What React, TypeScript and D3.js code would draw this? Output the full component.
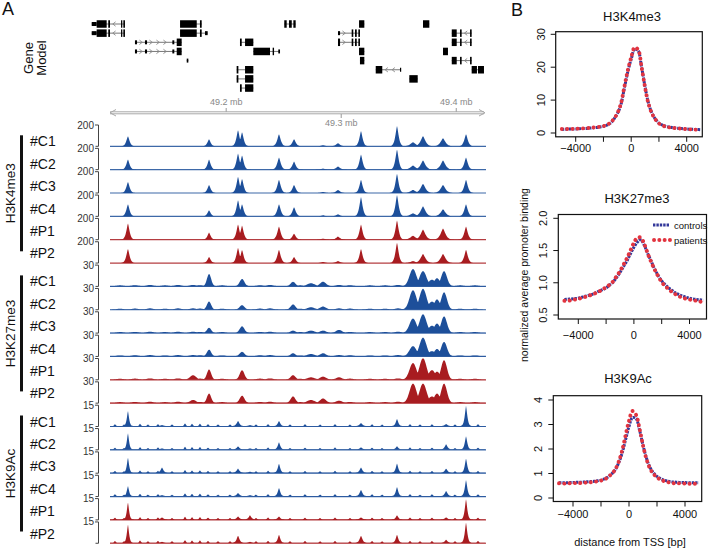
import React from 'react';
import * as d3 from 'd3';

// ---------------- DATA ----------------
const REGION_MB: [number, number] = [49.099, 49.425];
const GENOME_TICKS = [49.2, 49.3, 49.4];
const SAMPLES = ['#C1', '#C2', '#C3', '#C4', '#P1', '#P2'];
const SAMPLE_KIND = ['control', 'control', 'control', 'control', 'patient', 'patient'];
const MARKS = ['H3K4me3', 'H3K27me3', 'H3K9Ac'];
const MARK_SCALE_MAX = [200, 30, 15];
const MARK_FLOOR = [0, 0.5, 0.35];

// peak: position (Mb), width (kb), height per sample (C1..C4, P1, P2)
const K4_PEAKS = [
  { pos: 49.1146, w: 1.2, h: [95, 95, 105, 114, 152, 133] },
  { pos: 49.1851, w: 1.2, h: [67, 95, 76, 57, 67, 57] },
  { pos: 49.2103, w: 1.2, h: [152, 152, 152, 152, 143, 143] },
  { pos: 49.2138, w: 1.2, h: [133, 133, 133, 114, 133, 124] },
  { pos: 49.2459, w: 1.3, h: [114, 114, 124, 114, 124, 124] },
  { pos: 49.259, w: 1.3, h: [67, 76, 76, 86, 57, 57] },
  { pos: 49.2842, w: 1.5, h: [10, 10, 10, 10, 10, 10] },
  { pos: 49.2972, w: 1.5, h: [29, 29, 29, 19, 29, 19] },
  { pos: 49.3172, w: 1.2, h: [143, 143, 124, 181, 143, 133] },
  { pos: 49.3485, w: 1.2, h: [190, 190, 181, 200, 181, 190] },
  { pos: 49.3624, w: 2.0, h: [38, 38, 29, 29, 38, 19] },
  { pos: 49.3711, w: 1.8, h: [95, 86, 86, 95, 95, 86] },
  { pos: 49.3885, w: 1.8, h: [76, 86, 76, 67, 105, 86] },
  { pos: 49.4085, w: 1.3, h: [114, 114, 124, 114, 124, 124] },
];

const K27_PEAKS = [
  { pos: 49.3624, w: 3.0, h: [24, 27, 20, 14, 23, 27] },
  { pos: 49.3711, w: 3.0, h: [21, 29, 26, 26, 30, 27] },
  { pos: 49.3789, w: 3.0, h: [9, 11, 10, 7, 13, 9] },
  { pos: 49.3833, w: 2.5, h: [11, 14, 13, 10, 11, 13] },
  { pos: 49.3894, w: 2.5, h: [21, 24, 23, 20, 27, 27] },
  { pos: 49.1851, w: 1.8, h: [17, 11, 7, 9, 14, 13] },
  { pos: 49.2138, w: 2.0, h: [10, 6, 9, 6, 13, 10] },
  { pos: 49.1712, w: 2.5, h: [1.5, 1.5, 1.5, 1.5, 6, 4] },
  { pos: 49.2581, w: 2.0, h: [6, 7, 3, 4, 6, 9] },
  { pos: 49.2737, w: 3.0, h: [4, 3, 3, 3, 3, 4] },
  { pos: 49.2842, w: 2.5, h: [6, 4, 3, 4, 4, 6] },
  { pos: 49.2981, w: 2.5, h: [1.5, 1.5, 4, 1.5, 3, 3] },
];

const K9_PEAKS = [
  { pos: 49.1146, w: 0.8, h: [10.7, 11.4, 10.7, 7.1, 12.1, 12.9] },
  { pos: 49.2459, w: 0.9, h: [3.6, 5, 6.4, 5.7, 2.1, 5.7] },
  { pos: 49.4085, w: 0.9, h: [14.3, 9.3, 10, 11.4, 14.3, 14.3] },
  { pos: 49.3485, w: 0.9, h: [5, 2.1, 6.4, 6.4, 2.9, 5.7] },
  { pos: 49.3172, w: 1.0, h: [2.1, 1.4, 3.6, 4.3, 1.4, 5] },
  { pos: 49.3912, w: 1.0, h: [1.4, 3.6, 2.9, 3.6, 1.4, 2.1] },
  { pos: 49.2103, w: 1.0, h: [3.6, 2.1, 2.9, 2.1, 2.1, 5] },
  { pos: 49.1442, w: 1.0, h: [0.7, 0.7, 3.6, 0.7, 1.4, 0.7] },
  { pos: 49.2207, w: 1.0, h: [0.7, 0.7, 0.7, 0.7, 2.9, 0.7] },
];

// small background bumps shared by the samples of a mark: [pos Mb, height]
const K27_MINOR: [number, number][] = [
  [49.1077, 1.0], [49.1207, 1.2], [49.1338, 1.5], [49.1468, 1.0], [49.1581, 1.5],
  [49.1772, 1.2], [49.1964, 1.0], [49.2294, 1.2], [49.2381, 1.5], [49.2642, 1.0],
  [49.3076, 1.2], [49.325, 1.0], [49.3381, 1.0], [49.3494, 1.5], [49.4033, 1.0], [49.4163, 1.0],
];
const K9_MINOR: [number, number][] = [
  [49.1033, 1.2], [49.1112, 1.0], [49.1251, 1.5], [49.132, 1.0], [49.1407, 1.3],
  [49.1529, 1.0], [49.1642, 1.8], [49.1703, 1.5], [49.1772, 1.6], [49.1842, 1.2],
  [49.1929, 1.0], [49.2033, 1.0], [49.2259, 1.0], [49.2364, 1.3], [49.2555, 1.0],
  [49.2685, 1.2], [49.2816, 1.0], [49.2946, 1.3], [49.3076, 1.0], [49.3268, 1.2],
  [49.3355, 1.0], [49.3598, 1.3], [49.3685, 1.0], [49.3789, 1.2], [49.3989, 1.0], [49.4189, 1.2],
];

// gene model: row, strand, exons [start Mb, end Mb, thick(1)/thin(0)]
const GENES: { row: number; strand: number; exons: [number, number, number][] }[] = [
  { row: 0, strand: -1, exons: [[49.0831, 49.0874, 0], [49.0874, 49.0961, 1], [49.0975, 49.099, 1], [49.1086, 49.1097, 1], [49.1106, 49.112, 1]] },
  { row: 1, strand: -1, exons: [[49.0831, 49.0874, 0], [49.0874, 49.0961, 1], [49.0975, 49.099, 1], [49.1086, 49.1097, 1], [49.1106, 49.112, 1]] },
  { row: 0, strand: -1, exons: [[49.1599, 49.1744, 1], [49.1772, 49.1787, 1]] },
  { row: 1, strand: -1, exons: [[49.1599, 49.1744, 1], [49.1772, 49.1787, 1], [49.1816, 49.1839, 0]] },
  { row: 0, strand: 0, exons: [[49.2505, 49.2526, 1], [49.2546, 49.257, 1], [49.2584, 49.2604, 1]] },
  { row: 0, strand: 0, exons: [[49.3155, 49.3201, 1]] },
  { row: 0, strand: 0, exons: [[49.3711, 49.3766, 1]] },
  { row: 2, strand: 1, exons: [[49.1207, 49.1225, 0], [49.1294, 49.1312, 0], [49.1532, 49.1549, 0], [49.157, 49.1613, 1]] },
  { row: 3, strand: 1, exons: [[49.1207, 49.1225, 0], [49.1294, 49.1312, 0], [49.1532, 49.1549, 0], [49.157, 49.1613, 1]] },
  { row: 2, strand: 0, exons: [[49.212, 49.2135, 1], [49.2164, 49.2236, 1]] },
  { row: 1, strand: 1, exons: [[49.2972, 49.299, 0], [49.3091, 49.3105, 1], [49.312, 49.3135, 1], [49.3149, 49.3163, 1]] },
  { row: 2, strand: 1, exons: [[49.2972, 49.299, 1], [49.3091, 49.3105, 1], [49.312, 49.3135, 1], [49.3149, 49.3163, 1]] },
  { row: 1, strand: -1, exons: [[49.3961, 49.4004, 1], [49.4033, 49.4047, 1], [49.412, 49.4134, 1]] },
  { row: 2, strand: -1, exons: [[49.3961, 49.4004, 1], [49.4033, 49.4047, 1], [49.412, 49.4134, 1]] },
  { row: 4, strand: -1, exons: [[49.3961, 49.4004, 1], [49.4033, 49.4047, 1], [49.412, 49.4134, 1]] },
  { row: 3, strand: 0, exons: [[49.2236, 49.2381, 1], [49.2404, 49.2416, 1], [49.2453, 49.2468, 0]] },
  { row: 3, strand: 0, exons: [[49.3155, 49.3201, 1]] },
  { row: 4, strand: 0, exons: [[49.3163, 49.3201, 1]] },
  { row: 4, strand: 0, exons: [[49.1657, 49.1671, 0]] },
  { row: 3, strand: 0, exons: [[49.3885, 49.3928, 1]] },
  { row: 5, strand: 1, exons: [[49.2091, 49.2106, 1], [49.2164, 49.2236, 1]] },
  { row: 5, strand: -1, exons: [[49.33, 49.3357, 1], [49.3511, 49.352, 0]] },
  { row: 5, strand: 0, exons: [[49.4134, 49.418, 1], [49.4189, 49.4241, 1]] },
  { row: 6, strand: 0, exons: [[49.2091, 49.2106, 1], [49.2164, 49.2236, 1]] },
  { row: 6, strand: 0, exons: [[49.3592, 49.3665, 1]] },
  { row: 7, strand: 0, exons: [[49.212, 49.2135, 1], [49.2164, 49.2236, 1]] },
];

// Panel B: average promoter profiles
const TSS_DIST = [
  -5000, -4750, -4500, -4250, -4000, -3750, -3500, -3250, -3000, -2750, -2500, -2250, -2000, -1750,
  -1500, -1250, -1000, -750, -500, -250, 0, 250, 500, 750, 1000, 1250, 1500, 1750, 2000, 2250,
  2500, 2750, 3000, 3250, 3500, 3750, 4000, 4250, 4500, 4750, 5000,
];
const K4_CONTROLS = [1.1, 1.15, 1.2, 1.2, 1.25, 1.3, 1.35, 1.4, 1.5, 1.6, 1.7, 1.85, 2.0, 2.4, 3.0, 4.2, 5.9, 8.5, 13.5, 18.5, 22.5, 25.5, 25, 20, 14, 9, 6, 4.2, 3.0, 2.4, 2.0, 1.8, 1.6, 1.5, 1.4, 1.3, 1.2, 1.15, 1.1, 1.05, 1.0];
const K4_PATIENTS = [1.2, 1.2, 1.25, 1.25, 1.3, 1.35, 1.4, 1.45, 1.55, 1.65, 1.75, 1.9, 2.1, 2.5, 3.1, 4.3, 6.0, 8.8, 14, 19, 23, 26, 25.3, 20, 13.8, 8.8, 5.9, 4.1, 2.9, 2.3, 1.9, 1.7, 1.55, 1.45, 1.35, 1.25, 1.2, 1.1, 1.05, 1.0, 1.0];
const K27_CONTROLS = [0.74, 0.745, 0.75, 0.755, 0.76, 0.775, 0.79, 0.805, 0.82, 0.845, 0.87, 0.895, 0.92, 0.965, 1.01, 1.08, 1.16, 1.25, 1.34, 1.45, 1.55, 1.63, 1.665, 1.58, 1.45, 1.33, 1.21, 1.11, 1.03, 0.97, 0.92, 0.88, 0.84, 0.815, 0.795, 0.775, 0.76, 0.75, 0.74, 0.735, 0.73];
const K27_PATIENTS = [0.72, 0.72, 0.73, 0.74, 0.75, 0.765, 0.78, 0.8, 0.815, 0.84, 0.865, 0.9, 0.93, 0.97, 1.02, 1.1, 1.18, 1.28, 1.38, 1.5, 1.62, 1.7, 1.7, 1.6, 1.45, 1.32, 1.2, 1.1, 1.01, 0.95, 0.9, 0.855, 0.82, 0.79, 0.77, 0.75, 0.74, 0.73, 0.72, 0.71, 0.69];
const K9_CONTROLS = [0.62, 0.62, 0.62, 0.63, 0.63, 0.64, 0.64, 0.65, 0.66, 0.67, 0.68, 0.7, 0.73, 0.78, 0.86, 0.98, 1.14, 1.42, 1.82, 2.37, 2.92, 3.28, 3.25, 2.78, 2.16, 1.62, 1.25, 1.02, 0.88, 0.79, 0.73, 0.69, 0.66, 0.65, 0.64, 0.63, 0.63, 0.62, 0.62, 0.62, 0.62];
const K9_PATIENTS = [0.6, 0.59, 0.59, 0.6, 0.6, 0.61, 0.61, 0.62, 0.63, 0.64, 0.66, 0.68, 0.71, 0.76, 0.85, 0.98, 1.15, 1.46, 1.92, 2.55, 3.15, 3.55, 3.4, 2.85, 2.15, 1.58, 1.2, 0.98, 0.84, 0.75, 0.69, 0.65, 0.62, 0.6, 0.6, 0.59, 0.59, 0.58, 0.58, 0.58, 0.59];
const LEGEND = ['controls', 'patients'];

// ---------------- STYLE ----------------
const FONT = 'Liberation Sans, Arial, Helvetica, sans-serif';
const TRACK_BLUE = '#1d4f9a';
const TRACK_RED = '#a81c20';
const LINE_BLUE = '#33389a';
const LINE_RED = '#e2343f';

const gx = d3.scaleLinear().domain(REGION_MB).range([110, 485]);
const PX_PER_KB = (gx(49.2) - gx(49.1)) / 100;

function trackPath(peaks: any[], minor: [number, number][], si: number, gi: number, y: d3.ScaleLinear<number, number>) {
  const floor = MARK_FLOOR[gi];
  const max = MARK_SCALE_MAX[gi];
  const expo = gi === 1 ? 2 : 1.4; // sharper peak shape for narrow marks
  const pts: [number, number][] = [];
  for (const px of d3.range(110, 486, 0.5)) {
    let v = 0;
    for (const p of peaks) {
      const s = p.w * PX_PER_KB;
      const d = Math.abs(px - gx(p.pos)) / s;
      v = Math.max(v, p.h[si] * Math.exp(-0.5 * Math.pow(d, expo)));
    }
    const ms = (gi === 1 ? 2.5 : 0.7) * PX_PER_KB;
    for (const [pos, h] of minor) {
      const d = (px - gx(pos)) / ms;
      v = Math.max(v, h * Math.exp(-0.5 * d * d));
    }
    pts.push([px, Math.min(max, v + floor)]);
  }
  const area = d3.area<[number, number]>().x(d => d[0]).y0(y(0)).y1(d => y(d[1]));
  return area(pts) || '';
}

const TRACK_TOP0 = 125;
const TRACK_STEP = 23.35;
const TRACK_H = 21.3;
const LABEL_STEP = 22.4;

function Tracks() {
  const groups = [
    { peaks: K4_PEAKS, minor: [] as [number, number][] },
    { peaks: K27_PEAKS, minor: K27_MINOR },
    { peaks: K9_PEAKS, minor: K9_MINOR },
  ];
  const out: React.ReactNode[] = [];
  groups.forEach((g, gi) => {
    const firstBase = TRACK_TOP0 + gi * 6 * TRACK_STEP + TRACK_H;
    const barTop = firstBase - 11;
    const barBot = firstBase + 5 * LABEL_STEP - 7;
    out.push(
      <g key={'grp' + gi}>
        <rect x={20} y={barTop} width={3} height={barBot - barTop} fill="#111" />
        <text transform={`translate(15,${(barTop + barBot) / 2}) rotate(-90)`} textAnchor="middle" fontSize={13.5} fill="#111">{MARKS[gi]}</text>
      </g>
    );
    SAMPLES.forEach((s, si) => {
      const idx = gi * 6 + si;
      const top = TRACK_TOP0 + idx * TRACK_STEP;
      const base = top + TRACK_H;
      const y = d3.scaleLinear().domain([0, MARK_SCALE_MAX[gi]]).range([base, top]);
      const col = SAMPLE_KIND[si] === 'control' ? TRACK_BLUE : TRACK_RED;
      out.push(
        <g key={'t' + idx}>
          <text x={30} y={firstBase + si * LABEL_STEP} fontSize={14} fill="#111">{s}</text>
          <text x={94} y={top} dy="0.35em" textAnchor="end" fontSize={10} fill="#333">{MARK_SCALE_MAX[gi]}</text>
          <line x1={95} x2={98.5} y1={top} y2={top} stroke="#444" strokeWidth={1} />
          <line x1={98.5} x2={98.5} y1={top} y2={base} stroke="#444" strokeWidth={1} />
          <line x1={95.5} x2={98.5} y1={base} y2={base} stroke="#444" strokeWidth={1} />
          <path d={trackPath(g.peaks, g.minor, si, gi, y)} fill={col} />
          <line x1={110} x2={486} y1={base} y2={base} stroke={col} strokeWidth={1.2} opacity={0.85} />
        </g>
      );
    });
  });
  return <g>{out}</g>;
}

function GeneModel() {
  const rowY = (r: number) => 24 + r * 9.15;
  const items: React.ReactNode[] = [];
  GENES.forEach((g, i) => {
    const y = rowY(g.row);
    const s = gx(g.exons[0][0]);
    const e = gx(g.exons[g.exons.length - 1][1]);
    items.push(<line key={'l' + i} x1={s} x2={e} y1={y} y2={y} stroke="#777" strokeWidth={1} />);
    for (let k = 0; k < g.exons.length - 1; k++) {
      const a = gx(g.exons[k][1]);
      const b = gx(g.exons[k + 1][0]);
      if (g.strand !== 0 && b - a > 7) {
        for (let cx = a + 4; cx < b - 2; cx += 7) {
          const d = g.strand > 0
            ? `M${cx - 1.6},${y - 2.2}L${cx + 1.2},${y}L${cx - 1.6},${y + 2.2}`
            : `M${cx + 1.6},${y - 2.2}L${cx - 1.2},${y}L${cx + 1.6},${y + 2.2}`;
          items.push(<path key={`c${i}-${k}-${cx}`} d={d} fill="none" stroke="#888" strokeWidth={0.9} />);
        }
      }
    }
    g.exons.forEach((ex, j) => {
      const hgt = ex[2] ? 7.5 : 4;
      items.push(
        <rect key={`e${i}-${j}`} x={gx(ex[0])} y={y - hgt / 2} width={Math.max(1.2, gx(ex[1]) - gx(ex[0]))} height={hgt} fill="#000" />
      );
    });
  });
  return <g>{items}</g>;
}

function GenomeAxis() {
  const y1 = 111.8, y2 = 113.8;
  return (
    <g>
      <line x1={110} x2={484} y1={y1} y2={y1} stroke="#a8a8a8" strokeWidth={1} />
      <line x1={110} x2={484} y1={y2} y2={y2} stroke="#a8a8a8" strokeWidth={1} />
      <path d="M116,109.5L110,112.8L116,116" fill="none" stroke="#a8a8a8" strokeWidth={1} />
      <path d="M479,109.5L485,112.8L479,116" fill="none" stroke="#a8a8a8" strokeWidth={1} />
      {GENOME_TICKS.map((t, i) => {
        const x = gx(t);
        const above = i !== 1;
        return (
          <g key={t}>
            <line x1={x} x2={x} y1={above ? 108 : 114} y2={above ? 111.8 : 118} stroke="#999" />
            <text x={x} y={above ? 105 : 126} textAnchor="middle" fontSize={9} fill="#888">{`${t.toFixed(1)} mb`}</text>
          </g>
        );
      })}
    </g>
  );
}

type PlotCfg = {
  title: string; tx: number; ty: number;
  box: [number, number, number, number];
  xr: [number, number];
  yd: [number, number]; yr: [number, number];
  yticks: number[]; yfmt: (v: number) => string;
  xlabY: number;
  ctrl: number[]; pat: number[];
  legend?: boolean;
};

function Profile({ c }: { c: PlotCfg }) {
  const xs = d3.scaleLinear().domain([-4000, 4000]).range(c.xr);
  const ys = d3.scaleLinear().domain(c.yd).range(c.yr);
  const [x0, x1, y0, y1] = c.box;
  const line = d3.line<number>()
    .x((_, i) => xs(TSS_DIST[i]))
    .y(d => ys(d))
    .curve(d3.curveCatmullRom);
  const xt = [-4000, -2000, 0, 2000, 4000];
  return (
    <g>
      <text x={c.tx} y={c.ty} textAnchor="middle" fontSize={13} fill="#111">{c.title}</text>
      <path d={line(c.ctrl) || ''} fill="none" stroke={LINE_BLUE} strokeWidth={3} strokeDasharray="2.4 1" />
      <path d={line(c.pat) || ''} fill="none" stroke={LINE_RED} strokeWidth={3.9} strokeDasharray="0.1 5.2" strokeLinecap="round" />
      <rect x={x0} y={y0} width={x1 - x0} height={y1 - y0} fill="none" stroke="#111" strokeWidth={1.2} />
      {xt.map(t => (
        <g key={t}>
          <line x1={xs(t)} x2={xs(t)} y1={y1} y2={y1 + 5} stroke="#111" />
          {t % 4000 === 0 && (
            <text x={xs(t)} y={c.xlabY} textAnchor="middle" fontSize={11} fill="#111">{t < 0 ? `\u2212${-t}` : `${t}`}</text>
          )}
        </g>
      ))}
      {c.yticks.map(t => (
        <g key={t}>
          <line x1={x0 - 5} x2={x0} y1={ys(t)} y2={ys(t)} stroke="#111" />
          <text transform={`translate(${x0 - 11},${ys(t)}) rotate(-90)`} textAnchor="middle" fontSize={11} fill="#111">{c.yfmt(t)}</text>
        </g>
      ))}
      {c.legend && (
        <g>
          <line x1={653} x2={670} y1={225} y2={225} stroke={LINE_BLUE} strokeWidth={3} strokeDasharray="2.4 1" />
          <text x={674} y={228.5} fontSize={9.5} fill="#111">{LEGEND[0]}</text>
          <line x1={654} x2={670} y1={240} y2={240} stroke={LINE_RED} strokeWidth={3.9} strokeDasharray="0.1 5.2" strokeLinecap="round" />
          <text x={674} y={243.5} fontSize={9.5} fill="#111">{LEGEND[1]}</text>
        </g>
      )}
    </g>
  );
}

export default function App() {
  const plots: PlotCfg[] = [
    {
      title: MARKS[0], tx: 632, ty: 21, box: [555.7, 702.3, 31.7, 136.8], xr: [575.7, 686.7],
      yd: [0, 30], yr: [133, 34.3], yticks: [0, 10, 20, 30], yfmt: v => `${v}`, xlabY: 152,
      ctrl: K4_CONTROLS, pat: K4_PATIENTS,
    },
    {
      title: MARKS[1], tx: 637, ty: 203, box: [558.3, 706.5, 214.5, 319], xr: [578.3, 689.5],
      yd: [0.5, 2.0], yr: [315, 218.3], yticks: [0.5, 1.0, 1.5, 2.0], yfmt: v => v.toFixed(1), xlabY: 339,
      ctrl: K27_CONTROLS, pat: K27_PATIENTS, legend: true,
    },
    {
      title: MARKS[2], tx: 628, ty: 383, box: [553.3, 701.7, 395.7, 501.5], xr: [573, 685],
      yd: [0, 4], yr: [498, 400], yticks: [0, 1, 2, 3, 4], yfmt: v => `${v}`, xlabY: 518,
      ctrl: K9_CONTROLS, pat: K9_PATIENTS,
    },
  ];
  return (
    <svg width={710} height={549} viewBox="0 0 710 549" style={{ position: 'absolute', left: 0, top: 0, background: '#fff' }} fontFamily={FONT}>
      <rect x={0} y={0} width={710} height={549} fill="#fff" />
      <text x={2} y={15} fontSize={18} fill="#111">A</text>
      <text x={511} y={16} fontSize={18} fill="#111">B</text>
      <text transform="translate(33,58) rotate(-90)" textAnchor="middle" fontSize={13} fill="#111">Gene</text>
      <text transform="translate(46,58) rotate(-90)" textAnchor="middle" fontSize={13} fill="#111">Model</text>
      <GeneModel />
      <GenomeAxis />
      <Tracks />
      {plots.map((p, i) => <Profile key={i} c={p} />)}
      <text transform="translate(528,275) rotate(-90)" textAnchor="middle" fontSize={10.5} fill="#111">normalized average promoter binding</text>
      <text x={630} y={546} textAnchor="middle" fontSize={11} fill="#111">distance from TSS [bp]</text>
    </svg>
  );
}
